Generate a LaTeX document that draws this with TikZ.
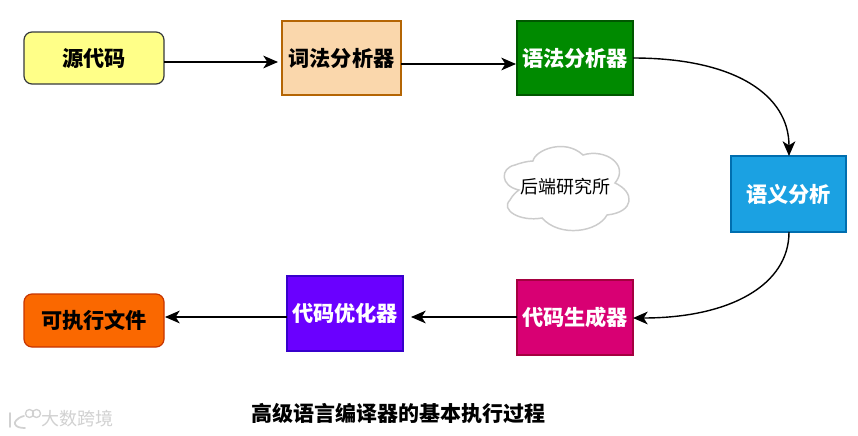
\documentclass[tikz,border=0pt]{standalone}
\usepackage{fontspec}
\setmainfont{Noto Sans CJK SC}
\usetikzlibrary{arrows.meta}
\definecolor{pY}{HTML}{FFFF88}\definecolor{pYb}{HTML}{36393D}
\definecolor{pO}{HTML}{FAD7AC}\definecolor{pOb}{HTML}{B46504}
\definecolor{pG}{HTML}{008A00}\definecolor{pGb}{HTML}{005700}
\definecolor{pB}{HTML}{1BA1E2}\definecolor{pBb}{HTML}{006EAF}
\definecolor{pR}{HTML}{D80073}\definecolor{pRb}{HTML}{A50040}
\definecolor{pV}{HTML}{6A00FF}\definecolor{pVb}{HTML}{3700CC}
\definecolor{pF}{HTML}{FA6800}\definecolor{pFb}{HTML}{C73500}
\tikzset{
  x=0.75pt,y=-0.75pt,
  box/.style={draw,line width=0.9pt,minimum width=#1*0.75pt,inner sep=0pt,align=center,font=\fontsize{15.9pt}{18pt}\selectfont\bfseries},
  flow/.style={draw=black,line width=1.05pt,-{Stealth[length=11pt,width=9.5pt,inset=3pt]}},
  mark text/.style={text=black!18,font=\fontsize{13.5pt}{15pt}\selectfont,inner sep=0pt},
}
\begin{document}
\begin{tikzpicture}
\useasboundingbox (0,0) rectangle (858,436);
\fill[white] (0,0) rectangle (858,436);
\node[box=140,minimum height=39pt,rounded corners=6pt,fill=pY,draw=pYb,text=black] (src) at (94,58) {源代码};
\node[box=119,minimum height=55.5pt,fill=pO,draw=pOb,text=black] (lex) at (341.5,58) {词法分析器};
\node[box=116,minimum height=55.5pt,fill=pG,draw=pGb,text=white] (syn) at (575,58) {语法分析器};
\node[box=115,minimum height=57pt,fill=pB,draw=pBb,text=white] (sem) at (788.5,194) {语义分析};
\node[box=116,minimum height=56.25pt,fill=pR,draw=pRb,text=white] (gen) at (575,317.5) {代码生成器};
\node[box=116,minimum height=56.25pt,fill=pV,draw=pVb,text=white] (opt) at (345,313.5) {代码优化器};
\node[box=140,minimum height=39.75pt,rounded corners=6pt,fill=pF,draw=pFb,text=black] (exe) at (94,320.5) {可执行文件};
\coordinate (srcout) at (164,62);
\coordinate (lexin) at (278,62);
\coordinate (lexout) at (401,64);
\coordinate (synin) at (516,64);
\coordinate (synout) at (633,58);
\coordinate (semin) at (789,156);
\coordinate (semout) at (789,232);
\coordinate (genin) at (633,318);
\coordinate (genout) at (517,317);
\coordinate (optin) at (411,317);
\coordinate (optout) at (287,317);
\coordinate (exein) at (165,317);
\draw[flow] (srcout) -- (lexin);
\draw[flow] (lexout) -- (synin);
\draw[flow] (synout) .. controls (735,58) and (789,95) .. (semin);
\draw[flow] (semout) .. controls (789,285) and (730,318) .. (genin);
\draw[flow] (genout) -- (optin);
\draw[flow] (optout) -- (exein);
\draw[draw=black!20,fill=white,line width=1.1pt]
  (519,190) .. controls (500,186) and (500,168) .. (515,165)
  .. controls (520,163) and (528,161) .. (533,161)
  .. controls (535,150) and (565,138) .. (583,155)
  .. controls (605,148) and (630,165) .. (615,183)
  .. controls (635,192) and (635,212) .. (607,215)
  .. controls (598,232) and (560,238) .. (542,218)
  .. controls (520,222) and (500,210) .. (510,200)
  .. controls (512,196) and (516,192) .. (519,190) -- cycle;
\node[inner sep=0pt,font=\fontsize{13.5pt}{15pt}\selectfont] (cloud) at (565.5,187) {后端研究所};
\node[inner sep=0pt,font=\fontsize{15.75pt}{18pt}\selectfont\bfseries] (title) at (398,414) {高级语言编译器的基本执行过程};
\node[mark text] (wm) at (77.5,419) {大数跨境};
\draw[black!18,line width=1.3pt,line cap=round]
  (10,413) -- (10,427)
  (24,416) .. controls (16,418) and (14,423) .. (15,424) .. controls (16,427) and (20,428) .. (25,428);
\draw[black!18,line width=1pt] (29.5,413.5) circle (4) (36.5,413.5) circle (4);
\end{tikzpicture}
\end{document}
